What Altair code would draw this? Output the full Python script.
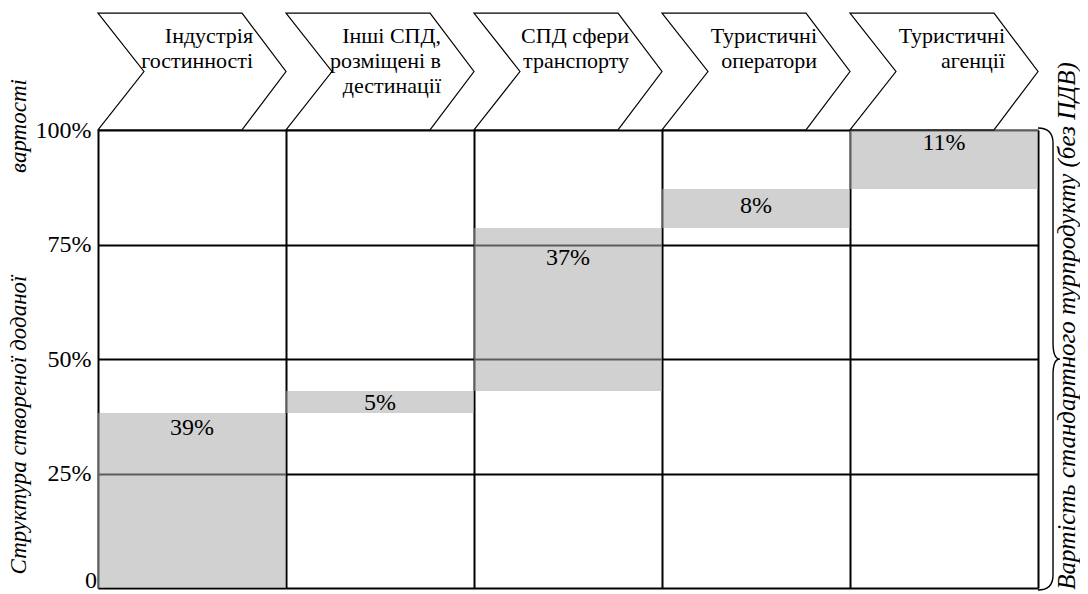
import altair as alt
import pandas as pd

# ---- data ----
stages = [
    "Індустрія\nгостинності",
    "Інші СПД,\nрозміщені в\nдестинації",
    "СПД сфери\nтранспорту",
    "Туристичні\nоператори",
    "Туристичні\nагенції",
]
share_labels = ["39%", "5%", "37%", "8%", "11%"]
# cumulative bounds of each grey block, in % of the axis (as drawn)
bar_low = [0.0, 38.2, 43.0, 78.6, 87.1]
bar_high = [38.2, 43.0, 78.6, 87.1, 100.0]
# vertical position of each value label, in % of the axis
label_pos = [34.9, 40.5, 72.1, 83.5, 97.2]
y_ticks = [0, 25, 50, 75, 100]
zero_tick = [0]
col_edges = [0, 1, 2, 3, 4, 5]

y_title_main = "Структура створеної доданої"
y_title_tail = "вартості"
right_title = "Вартість стандартного турпродукту (без ПДВ)"

FONT = "Times New Roman, Liberation Serif, Times, DejaVu Serif, serif"

df = pd.DataFrame({
    "stage": stages,
    "label": share_labels,
    "lo": bar_low,
    "hi": bar_high,
    "lpos": label_pos,
    "x0": [i for i in range(len(stages))],
})
df["x1"] = df["x0"] + 1
df["xc"] = df["x0"] + 0.5

W, H = 940, 458

xscale = alt.Scale(domain=[0, 5], nice=False, zero=False)
yscale = alt.Scale(domain=[0, 100], nice=False)

xaxis = alt.Axis(values=col_edges, grid=True, labels=False, ticks=False,
                 domain=False, title=None, gridColor="black", gridWidth=2,
                 gridOpacity=1)
yaxis = alt.Axis(values=y_ticks, grid=True, ticks=False, domain=False,
                 title=None, gridColor="black", gridWidth=2, gridOpacity=1,
                 labelFont=FONT, labelFontSize=24, labelColor="black",
                 labelPadding=7,
                 labelExpr="datum.value == 0 ? '' : datum.value + '%'",
                 labelBaseline="middle")

base = alt.Chart(df)

bars = base.mark_rect(fill="#ababab", opacity=0.55).encode(
    x=alt.X("x0:Q", scale=xscale, axis=xaxis),
    x2="x1:Q",
    y=alt.Y("lo:Q", scale=yscale, axis=yaxis),
    y2="hi:Q",
)

labels = base.mark_text(font=FONT, fontSize=24, baseline="middle",
                        align="center", color="black").encode(
    x=alt.X("xc:Q", scale=xscale),
    y=alt.Y("lpos:Q", scale=yscale),
    text="label:N",
)

zero_df = pd.DataFrame({"v": zero_tick, "t": ["0"]})
zero_label = alt.Chart(zero_df).mark_text(
    font=FONT, fontSize=24, align="right", baseline="alphabetic",
    color="black").encode(
    x=alt.value(-1),
    y=alt.Y("v:Q", scale=yscale),
    text="t:N",
)

CHEVRON = "M-1,-0.622 L0.532,-0.622 L1,0 L0.532,0.622 L-1,0.622 L-0.511,0 Z"
chevrons = base.mark_point(shape=CHEVRON, size=188 * 188, filled=True,
                           fill="white", stroke="black", strokeWidth=1.2,
                           opacity=1).encode(
    x=alt.X("xc:Q", scale=xscale),
    y=alt.value(-58.5),
)

chev_text = base.mark_text(font=FONT, fontSize=22, align="right",
                           baseline="alphabetic", lineBreak="\n",
                           lineHeight=25, dx=61, color="black").encode(
    x=alt.X("xc:Q", scale=xscale),
    y=alt.value(-87),
    text="stage:N",
)

BRACE = ("M0,-1 Q0.065,-1 0.065,-0.935 L0.065,-0.07 Q0.065,0 0.095,0 "
         "Q0.065,0 0.065,0.07 L0.065,0.935 Q0.065,1 0,1")
brace_df = pd.DataFrame({"bx": [5], "by": [50]})
brace = alt.Chart(brace_df).mark_point(shape=BRACE, size=462 * 462,
                                       filled=False, stroke="black",
                                       strokeWidth=1.4, opacity=1).encode(
    x=alt.X("bx:Q", scale=xscale),
    y=alt.Y("by:Q", scale=yscale),
)

title_df = pd.DataFrame({"t": [0]})
ytitle1 = alt.Chart(title_df).mark_text(
    text=y_title_main, font=FONT, fontSize=23, fontStyle="italic",
    angle=270, baseline="alphabetic", align="center", color="black").encode(
    x=alt.value(-72), y=alt.value(295))
ytitle2 = alt.Chart(title_df).mark_text(
    text=y_title_tail, font=FONT, fontSize=23, fontStyle="italic",
    angle=270, baseline="alphabetic", align="center", color="black").encode(
    x=alt.value(-72), y=alt.value(-4))
rtitle = alt.Chart(title_df).mark_text(
    text=right_title, font=FONT, fontSize=25, fontStyle="italic",
    angle=270, baseline="alphabetic", align="center", color="black").encode(
    x=alt.value(977), y=alt.value(196))

chart = alt.layer(bars, labels, zero_label, chevrons, chev_text, brace,
                  ytitle1, ytitle2, rtitle).properties(
    width=W, height=H,
    autosize="none",
    padding={"left": 90, "top": 122, "right": 42, "bottom": 6},
).configure_view(stroke=None).configure(background="white")

chart.save("out.html", embed_options={"renderer": "svg", "actions": False})
